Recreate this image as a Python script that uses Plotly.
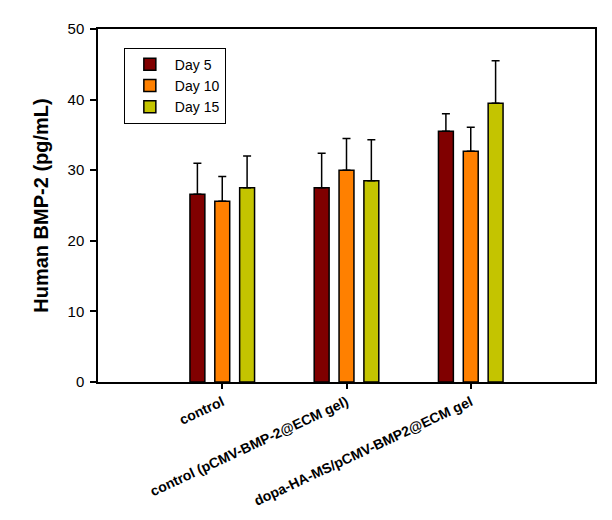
import plotly.graph_objects as go

categories = ["control", "control (pCMV-BMP-2@ECM gel)", "dopa-HA-MS/pCMV-BMP2@ECM gel"]
series_names = ["Day 5", "Day 10", "Day 15"]
day5 = [26.6, 27.5, 35.5]
day10 = [25.6, 30.0, 32.7]
day15 = [27.5, 28.5, 39.5]
day5_err = [4.4, 4.9, 2.5]
day10_err = [3.5, 4.5, 3.4]
day15_err = [4.5, 5.8, 6.0]
colors = ["#800000", "#FF8000", "#C4C400"]
y_ticks = [0, 10, 20, 30, 40, 50]

x_idx = list(range(len(categories)))
fig = go.Figure()
for name, vals, errs, col in zip(series_names, [day5, day10, day15],
                                 [day5_err, day10_err, day15_err], colors):
    fig.add_trace(go.Bar(
        x=x_idx, y=vals, name=name,
        marker=dict(color=col, line=dict(color="black", width=1.5)),
        error_y=dict(type="data", symmetric=False, array=errs,
                     arrayminus=[0] * len(errs), color="black",
                     thickness=1.5, width=4),
    ))

fig.update_layout(
    width=612, height=520,
    margin=dict(l=90, r=25, t=17, b=146),
    plot_bgcolor="white", paper_bgcolor="white",
    barmode="group", bargap=0.4, bargroupgap=0.4,
    font=dict(family="Liberation Sans, Arial, sans-serif", color="black"),
    showlegend=True,
    legend=dict(x=0.052, y=0.947, xanchor="left", yanchor="top",
                bgcolor="white", bordercolor="black", borderwidth=1,
                font=dict(size=14), itemwidth=40),
)
fig.update_xaxes(
    range=[-1, 3], tickmode="array", tickvals=x_idx,
    ticktext=["<b>%s</b>" % c for c in categories],
    tickangle=-25, tickfont=dict(size=14),
    ticks="outside", ticklen=5, tickcolor="black", tickwidth=1.5,
    showline=True, linecolor="black", linewidth=1.5, mirror=True,
    showgrid=False, zeroline=False,
)
fig.update_yaxes(
    range=[0, 50], tickvals=y_ticks, tickfont=dict(size=15),
    ticks="outside", ticklen=6, tickcolor="black", tickwidth=1.5,
    ticklabelstandoff=3,
    showline=True, linecolor="black", linewidth=1.5, mirror=True,
    showgrid=False, zeroline=False,
    title=dict(text="<b>Human BMP-2 (pg/mL)</b>", font=dict(size=20), standoff=14),
)
fig.write_html("out.html")
